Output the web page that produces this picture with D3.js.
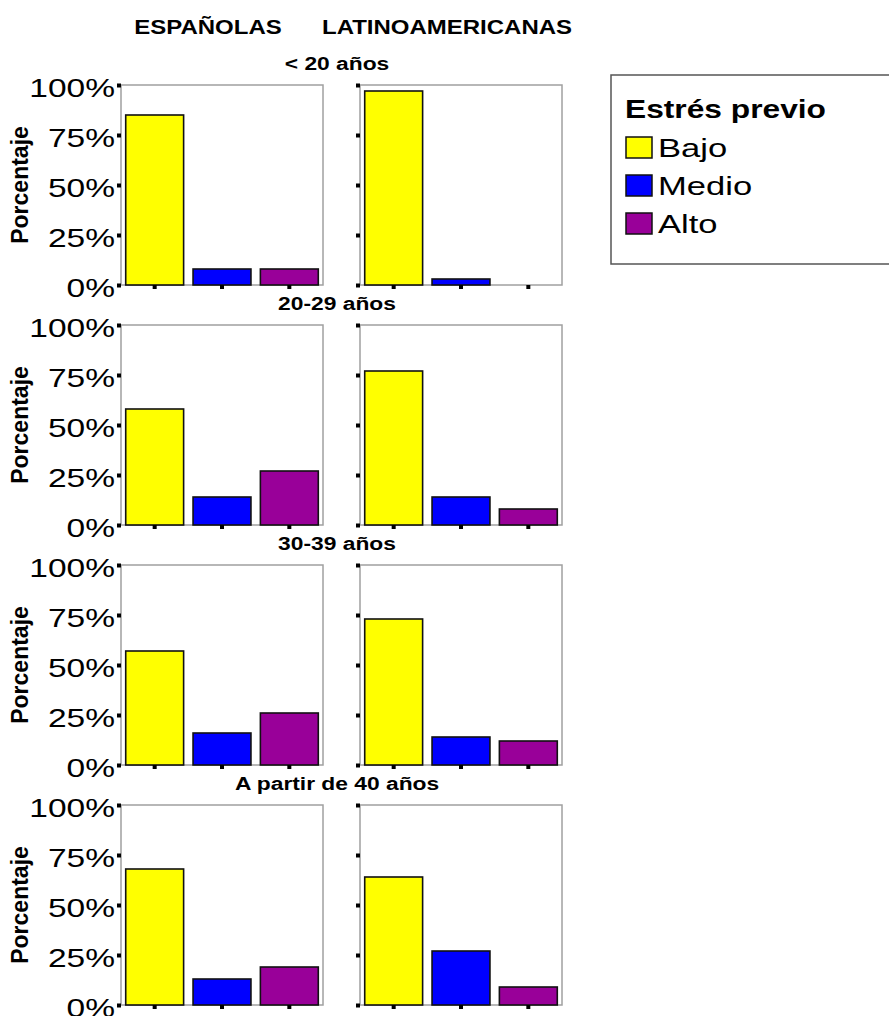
<!DOCTYPE html>
<html>
<head>
<meta charset="utf-8">
<script src="https://cdn.jsdelivr.net/npm/d3@7"></script>
<style>
  html, body { margin: 0; padding: 0; background: #fff; }
  svg { display: block; font-family: "Liberation Sans", Arial, sans-serif; }
</style>
</head>
<body>
<svg id="chart" width="889" height="1016"></svg>
<script>
// Stress levels (bars within each panel) and their fills
const levels = ["Bajo", "Medio", "Alto"];
const levelColors = ["#ffff00", "#0000ff", "#990099"];

// Age groups (one row of panels each)
const ageGroups = ["< 20 años", "20-29 años", "30-39 años", "A partir de 40 años"];

// Origin groups (one column of panels each)
const origins = ["ESPAÑOLAS", "LATINOAMERICANAS"];

// Percentages per age group: [Bajo, Medio, Alto]
const espanolas = [
  [85, 8, 8],
  [58, 14, 27],
  [57, 16, 26],
  [68, 13, 19]
];
const latinoamericanas = [
  [97, 3, 0],
  [77, 14, 8],
  [73, 14, 12],
  [64, 27, 9]
];

const yTicks = [0, 25, 50, 75, 100];
const legendTitle = "Estrés previo";
const yTitle = "Porcentaje";

const svg = d3.select("#chart");

// Glyphs are drawn slightly wide, as in the printed figure
const SX = 1.34;

function label(parent, x, y, txt, opts) {
  const o = Object.assign({ size: 20, bold: false, anchor: "start", sx: SX }, opts || {});
  return parent.append("text")
    .attr("transform", `translate(${x},${y}) scale(${o.sx},1)`)
    .attr("text-anchor", o.anchor)
    .attr("font-size", o.size)
    .attr("font-weight", o.bold ? "bold" : "normal")
    .attr("fill", "#000")
    .text(txt);
}

const panelW = 202, panelH = 200;
const colX = [121, 360];
const rowTop0 = 85, rowStep = 240;

const seriesByOrigin = [espanolas, latinoamericanas];

const x = d3.scaleBand().domain(levels).range([0, panelW]).paddingInner(0.14).paddingOuter(0.07);
const y = d3.scaleLinear().domain([0, 100]).range([panelH, 0]);
const color = d3.scaleOrdinal().domain(levels).range(levelColors);

// Column headers
const headerCx = [208, 447];
origins.forEach((o, i) => {
  label(svg, headerCx[i], 34, o, { size: 20, bold: true, anchor: "middle", sx: 1.2 });
});

ageGroups.forEach((g, r) => {
  const top = rowTop0 + r * rowStep;

  // Row title centred over both panels
  label(svg, 337, top - 15, g, { size: 19, bold: true, anchor: "middle", sx: 1.2 });

  // Y axis title
  svg.append("text")
    .attr("transform", `translate(28,${top + panelH / 2}) rotate(-90)`)
    .attr("text-anchor", "middle")
    .attr("font-weight", "bold").attr("font-size", 23)
    .text(yTitle);

  seriesByOrigin.forEach((series, c) => {
    const gp = svg.append("g").attr("transform", `translate(${colX[c]},${top})`);

    // Frame
    gp.append("rect")
      .attr("x", 0).attr("y", 0).attr("width", panelW).attr("height", panelH)
      .attr("fill", "#fff").attr("stroke", "#a0a0a0").attr("stroke-width", 1.5);

    // Bars
    gp.selectAll("rect.bar")
      .data(levels.map((l, i) => ({ level: l, value: series[r][i] })))
      .join("rect")
      .attr("class", "bar")
      .attr("x", d => x(d.level))
      .attr("width", x.bandwidth())
      .attr("y", d => y(d.value))
      .attr("height", d => panelH - y(d.value))
      .attr("fill", d => color(d.level))
      .attr("stroke", d => d.value > 0 ? "#111" : "none")
      .attr("stroke-width", 1.6);

    // Y ticks as small squares to the left of the frame
    const yAxis = d3.axisLeft(y).tickValues(yTicks).tickSize(0).tickFormat(c === 0 ? d => d + "%" : () => "");
    const ya = gp.append("g").call(yAxis);
    ya.select(".domain").remove();
    ya.selectAll(".tick text")
      .attr("font-size", 25).attr("font-family", "Liberation Sans, Arial, sans-serif")
      .attr("fill", "#000")
      .attr("transform", `scale(${SX},1)`)
      .attr("x", -6 / SX).attr("dy", 11);
    ya.selectAll(".tick").append("rect")
      .attr("x", -4).attr("y", -2).attr("width", 4).attr("height", 4).attr("fill", "#000");

    // X ticks as small squares below the frame
    const xAxis = d3.axisBottom(x).tickSize(0).tickFormat(() => "");
    const xa = gp.append("g").attr("transform", `translate(0,${panelH})`).call(xAxis);
    xa.select(".domain").remove();
    xa.selectAll(".tick").append("rect")
      .attr("x", -2).attr("y", 0).attr("width", 4).attr("height", 4).attr("fill", "#000");
  });
});

// Legend
const lg = svg.append("g").attr("transform", "translate(611,75)");
lg.append("rect")
  .attr("x", 0).attr("y", 0).attr("width", 290).attr("height", 189)
  .attr("fill", "#fff").attr("stroke", "#555").attr("stroke-width", 1.5);
label(lg, 14, 43, legendTitle, { size: 26, bold: true, sx: 1.22 });
levels.forEach((l, i) => {
  const cy = 72 + i * 38;
  lg.append("rect")
    .attr("x", 15).attr("y", cy - 10).attr("width", 26).attr("height", 21)
    .attr("fill", color(l)).attr("stroke", "#111").attr("stroke-width", 1.5);
  label(lg, 47, cy + 10, l, { size: 26, sx: 1.33 });
});
</script>
</body>
</html>
